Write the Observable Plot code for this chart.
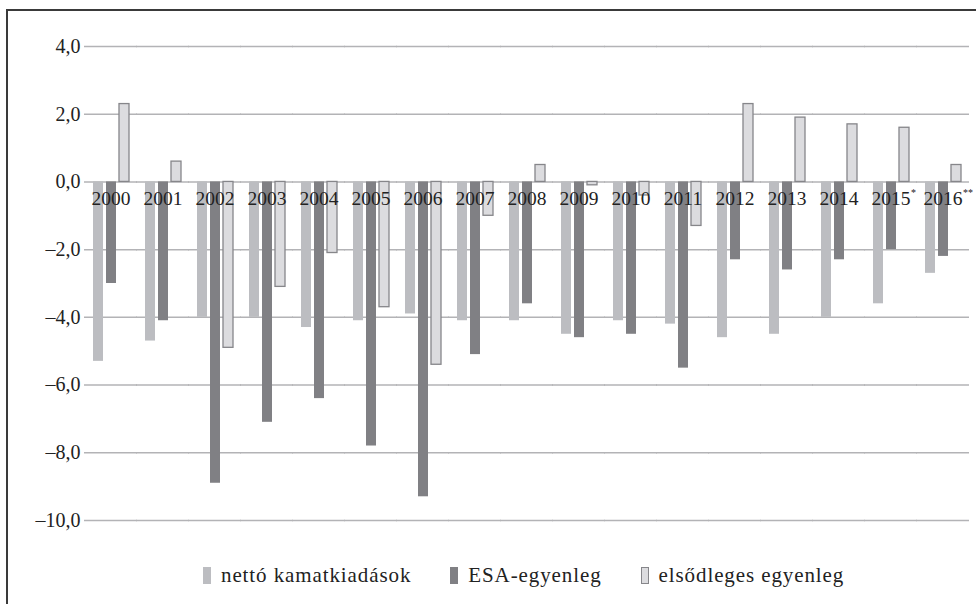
<!DOCTYPE html>
<html>
<head>
<meta charset="utf-8">
<script src="https://cdn.jsdelivr.net/npm/d3@7"></script>
<script src="https://cdn.jsdelivr.net/npm/@observablehq/plot@0.6"></script>
<style>
  html, body { margin: 0; padding: 0; background: #fff; }
  body { width: 976px; height: 604px; overflow: hidden; position: relative; font-family: 'Liberation Serif', serif; }
  #frame { position: absolute; left: 6px; top: 9px; width: 2000px; height: 2000px; border-left: 2px solid #3a3a3a; border-top: 2px solid #3a3a3a; }
  #chart { position: absolute; left: 0; top: 0; }
  #legend { position: absolute; left: 203px; top: 563px; display: flex; align-items: center; gap: 39px; font-family: 'Liberation Serif', serif; font-size: 21px; letter-spacing: 0.9px; color: #222; white-space: nowrap; }
  .item { display: flex; align-items: center; }
  .sw { display: inline-block; width: 8px; height: 17px; margin-right: 10px; box-sizing: border-box; }
</style>
</head>
<body>
<div id="frame"></div>
<div id="chart"></div>
<div id="legend"></div>
<script>
const years = ["2000","2001","2002","2003","2004","2005","2006","2007","2008","2009","2010","2011","2012","2013","2014","2015","2016"];
const yearNotes = ["","","","","","","","","","","","","","","","*","**"];
const seriesNames = ["nettó kamatkiadások", "ESA-egyenleg", "elsődleges egyenleg"];
const netto = [-5.3, -4.7, -4.0, -4.0, -4.3, -4.1, -3.9, -4.1, -4.1, -4.5, -4.1, -4.2, -4.6, -4.5, -4.0, -3.6, -2.7];
const esa = [-3.0, -4.1, -8.9, -7.1, -6.4, -7.8, -9.3, -5.1, -3.6, -4.6, -4.5, -5.5, -2.3, -2.6, -2.3, -2.0, -2.2];
const elsodleges = [2.3, 0.6, -4.9, -3.1, -2.1, -3.7, -5.4, -1.0, 0.5, -0.1, -0.4, -1.3, 2.3, 1.9, 1.7, 1.6, 0.5];
const yTicks = [4, 2, 0, -2, -4, -6, -8, -10];

const FONT = "'Liberation Serif', serif";
const fills = ["#bcbdc1", "#808084", "#dcdcdf"];
const values = [netto, esa, elsodleges];
const data = years.flatMap((yr, i) => seriesNames.map((s, k) => ({year: yr, series: s, value: values[k][i]})));
const notes = years.map((yr, i) => ({year: yr, note: yearNotes[i]})).filter(d => d.note);

const fmt = d => d.toFixed(1).replace(".", ",").replace("-", "\u2013");

const chart = Plot.plot({
  width: 976,
  height: 540,
  marginLeft: 84,
  marginRight: 8,
  marginTop: 46,
  marginBottom: 20,
  style: {fontFamily: FONT, fontSize: "20px", color: "#222", background: "transparent"},
  fx: {domain: years, paddingInner: 0.25, paddingOuter: 0.125, axis: null, label: null},
  x: {domain: seriesNames, paddingInner: 0.25, paddingOuter: 0.125, axis: null, label: null},
  y: {domain: [-10, 4], axis: null},
  marks: [
    Plot.ruleY(yTicks, {stroke: "#b3b3b6", strokeWidth: 1.5, insetLeft: -7, insetRight: -7}),
    Plot.axisY(yTicks, {tickFormat: fmt, tickSize: 0, tickPadding: 11, label: null, fontFamily: FONT, fontSize: 20, fill: "#222"}),
    Plot.barY(data.filter(d => d.series === seriesNames[0]), {fx: "year", x: "series", y: "value", fill: fills[0]}),
    Plot.barY(data.filter(d => d.series === seriesNames[1]), {fx: "year", x: "series", y: "value", fill: fills[1]}),
    Plot.barY(data.filter(d => d.series === seriesNames[2]), {fx: "year", x: "series", y: "value", fill: fills[2], stroke: "#86868a", strokeWidth: 1.3}),
    Plot.text(years, {fx: d => d, y: d => 0, text: d => d, dy: 17, fontSize: 19.5, fontFamily: FONT, fill: "#222"}),
    Plot.text(notes, {fx: "year", y: d => 0, text: "note", dx: 20, dy: 11, textAnchor: "start", fontSize: 10, fontFamily: FONT, fill: "#222"})
  ]
});
document.getElementById("chart").appendChild(chart);

const legend = document.getElementById("legend");
seriesNames.forEach((s, k) => {
  const item = document.createElement("div");
  item.className = "item";
  const sw = document.createElement("span");
  sw.className = "sw";
  sw.style.background = fills[k];
  if (k === 2) sw.style.border = "1px solid #86868a";
  const t = document.createElement("span");
  t.textContent = s;
  t.style.fontFamily = FONT;
  item.appendChild(sw);
  item.appendChild(t);
  legend.appendChild(item);
});
</script>
</body>
</html>
